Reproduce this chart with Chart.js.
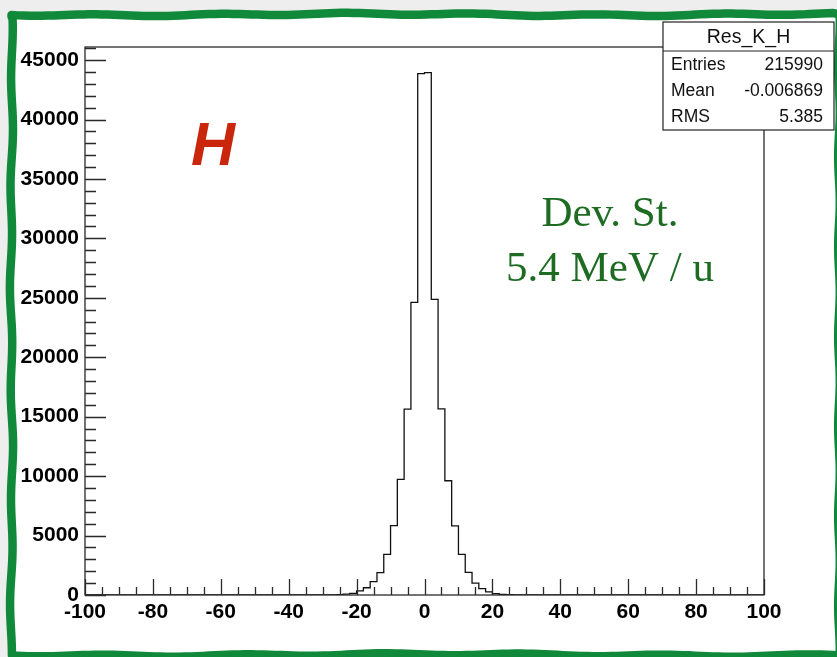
<!DOCTYPE html>
<html>
<head>
<meta charset="utf-8">
<script src="https://cdn.jsdelivr.net/npm/chart.js@4.4.0/dist/chart.umd.min.js"></script>
<style>
  html, body { margin: 0; padding: 0; background: #eeeeee; }
  canvas { display: block; }
</style>
</head>
<body>
<canvas id="resChart" width="837" height="657"></canvas>
<script>
// Res_K_H: 100 bins of width 2 between -100 and 100
const binLow = -100;
const binWidth = 2;
const counts = [
  0, 0, 0, 0, 0, 0, 0, 0, 0, 0,
  0, 0, 0, 0, 0, 0, 0, 0, 0, 0,
  0, 0, 0, 0, 0, 0, 0, 0, 0, 0,
  0, 0, 0, 0, 0, 0, 0, 20, 70, 130,
  340, 610, 1120, 1880, 3420, 5830, 9730, 15640, 24620, 43860,
  43950, 24870, 15650, 9610, 5810, 3410, 1900, 1000, 540, 270,
  120, 60, 20, 0, 0, 0, 0, 0, 0, 0,
  0, 0, 0, 0, 0, 0, 0, 0, 0, 0,
  0, 0, 0, 0, 0, 0, 0, 0, 0, 0,
  0, 0, 0, 0, 0, 0, 0, 0, 0, 0
];

const xTickValues = [-100, -80, -60, -40, -20, 0, 20, 40, 60, 80, 100];
const yTickValues = [0, 5000, 10000, 15000, 20000, 25000, 30000, 35000, 40000, 45000];
const yMax = 46100;

const statTitle = 'Res_K_H';
const statNames = ['Entries', 'Mean', 'RMS'];
const statValues = ['215990', '-0.006869', '5.385'];

// step outline: one point per bin low edge, plus the last upper edge
const points = counts.map((c, i) => ({ x: binLow + i * binWidth, y: c }));
points.push({ x: binLow + counts.length * binWidth, y: counts[counts.length - 1] });

const tickFont = { family: '"Liberation Sans", Arial, sans-serif', size: 21, weight: 'bold' };

// wobbly green frame around the whole picture
function drawFrame(ctx) {
  ctx.save();
  ctx.fillStyle = '#eeeeee';
  ctx.fillRect(0, 0, 837, 657);
  const L = 11.5, T = 14.5, R = 839, B = 655;
  ctx.fillStyle = '#ffffff';
  ctx.fillRect(L, T, R - L, B - T);
  ctx.strokeStyle = '#11893a';
  ctx.lineWidth = 8.5;
  ctx.lineJoin = 'round';
  ctx.lineCap = 'round';
  ctx.beginPath();
  ctx.moveTo(L, T + 2);
  for (let x = L; x <= R; x += 6) ctx.lineTo(x, T + Math.sin(x * 0.05) * 0.9 + Math.sin(x * 0.013) * 0.8);
  for (let y = T; y <= B; y += 6) ctx.lineTo(R + Math.sin(y * 0.07) * 0.8, y);
  for (let x = R; x >= L; x -= 6) ctx.lineTo(x, B + Math.sin(x * 0.045) * 1.0 + Math.sin(x * 0.011) * 0.8);
  for (let y = B; y >= T; y -= 6) ctx.lineTo(L + Math.sin(y * 0.06) * 1.0 + Math.sin(y * 0.017) * 0.6, y);
  ctx.closePath();
  ctx.stroke();
  ctx.restore();
}

const decorations = {
  id: 'decorations',
  beforeDraw(chart) {
    drawFrame(chart.ctx);
  },
  afterDatasetsDraw(chart) {
    const ctx = chart.ctx;
    const a = chart.chartArea;
    const xs = chart.scales.x;
    const ys = chart.scales.y;
    ctx.save();
    ctx.strokeStyle = '#2a2a2a';
    ctx.lineWidth = 1.3;
    ctx.strokeRect(a.left, a.top, a.right - a.left, a.bottom - a.top);
    ctx.beginPath();
    for (let v = -100; v <= 100; v += 5) {
      const px = Math.round(xs.getPixelForValue(v)) + 0.5;
      const len = v % 20 === 0 ? 16 : 8;
      ctx.moveTo(px, a.bottom);
      ctx.lineTo(px, a.bottom - len);
    }
    for (let v = 0; v <= 46000; v += 1000) {
      const py = Math.round(ys.getPixelForValue(v)) + 0.5;
      const len = v % 5000 === 0 ? 21 : 11;
      ctx.moveTo(a.left, py);
      ctx.lineTo(a.left + len, py);
    }
    ctx.stroke();
    ctx.restore();
  },
  afterDraw(chart) {
    const ctx = chart.ctx;
    ctx.save();
    // statistics box
    const bx = 663, by = 22, bw = 171, bh = 108;
    ctx.fillStyle = '#ffffff';
    ctx.fillRect(bx, by, bw, bh);
    ctx.strokeStyle = '#222222';
    ctx.lineWidth = 1.2;
    ctx.strokeRect(bx, by, bw, bh);
    ctx.beginPath();
    ctx.moveTo(bx, 51);
    ctx.lineTo(bx + bw, 51);
    ctx.stroke();
    ctx.fillStyle = '#111111';
    ctx.textBaseline = 'middle';
    ctx.textAlign = 'center';
    ctx.font = '19.5px "Liberation Sans", Arial, sans-serif';
    ctx.fillText(statTitle, bx + bw / 2, 38);
    ctx.font = '17.5px "Liberation Sans", Arial, sans-serif';
    const rowY = [65, 91, 117];
    statNames.forEach((name, i) => {
      ctx.textAlign = 'left';
      ctx.fillText(name, 671, rowY[i]);
      ctx.textAlign = 'right';
      ctx.fillText(statValues[i], 823, rowY[i]);
    });

    // particle label
    ctx.textBaseline = 'alphabetic';
    ctx.textAlign = 'left';
    ctx.fillStyle = '#c9260c';
    ctx.font = 'italic bold 61px "Liberation Sans", Arial, sans-serif';
    ctx.fillText('H', 191, 165);

    // resolution note
    ctx.textAlign = 'center';
    ctx.fillStyle = '#1e6b22';
    ctx.font = '43px "Liberation Serif", "DejaVu Serif", serif';
    ctx.fillText('Dev. St.', 610, 226);
    ctx.fillText('5.4 MeV / u', 610, 281);
    ctx.restore();
  }
};

new Chart(document.getElementById('resChart'), {
  type: 'line',
  data: {
    datasets: [{
      label: statTitle,
      data: points,
      stepped: 'before',
      borderColor: '#111111',
      borderWidth: 1.3,
      pointRadius: 0,
      fill: false
    }]
  },
  options: {
    responsive: false,
    animation: false,
    devicePixelRatio: 1,
    layout: { padding: { top: 47, right: 73, left: 0, bottom: 0 } },
    plugins: { legend: { display: false }, tooltip: { enabled: false } },
    scales: {
      x: {
        type: 'linear',
        min: -100,
        max: 100,
        grid: { display: false, drawTicks: false },
        border: { display: false },
        afterBuildTicks: (scale) => { scale.ticks = xTickValues.map(v => ({ value: v })); },
        afterFit: (scale) => { scale.height = 62; },
        ticks: {
          color: '#000000',
          font: tickFont,
          padding: 5,
          maxRotation: 0,
          autoSkip: false,
          callback: (v) => String(v)
        }
      },
      y: {
        min: 0,
        max: yMax,
        grid: { display: false, drawTicks: false },
        border: { display: false },
        afterBuildTicks: (scale) => { scale.ticks = yTickValues.map(v => ({ value: v })); },
        afterFit: (scale) => { scale.width = 85; },
        ticks: {
          color: '#000000',
          font: tickFont,
          padding: 6,
          autoSkip: false,
          callback: (v) => String(v)
        }
      }
    }
  },
  plugins: [decorations]
});
</script>
</body>
</html>
